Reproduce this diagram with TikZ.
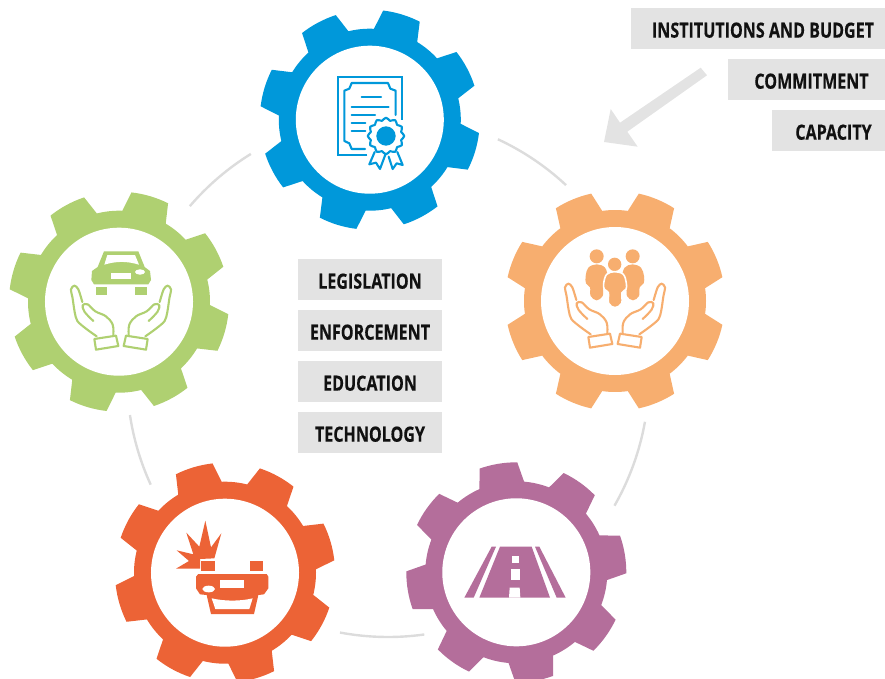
\documentclass[tikz,border=0pt]{standalone}
\usepackage{fontspec}
\usetikzlibrary{calc}
\newfontfamily\lblfont{Open Sans}[FakeStretch=0.766,FakeBold=0.3]
\definecolor{gblue}{HTML}{0098DA}
\definecolor{gorange}{HTML}{F7AE6F}
\definecolor{ggreen}{HTML}{AFD071}
\definecolor{gred}{HTML}{EC6336}
\definecolor{gpurple}{HTML}{B46E9B}
\definecolor{ringgrey}{HTML}{DCDCDC}
\definecolor{boxgrey}{HTML}{E3E3E3}
\definecolor{lbltext}{HTML}{111111}
\tikzset{
  ringarc/.style={draw=ringgrey,line width=2.4pt},
  lblbox/.style={fill=boxgrey,inner sep=0pt,minimum height=41pt,text=lbltext,
     font=\lblfont\bfseries\fontsize{21}{24}\selectfont},
  thin line/.style={line width=2.1pt,line cap=round,line join=round},
  zoomed/.style={scale=1/3}
}
% \gearat{name}{x}{y}{rotation}{colour}
\newcommand{\gearat}[5]{%
  \coordinate (#1) at (#2,#3);
  \begin{scope}[shift={(#2,#3)},rotate=#4]
    \fill[#5] (22.5-14.4:91)
      \foreach \k [evaluate=\k as \a using 22.5+45*\k] in {0,...,7}{
        -- (\a-14.4:91) -- (\a-10:110)
        arc[start angle=\a-10,end angle=\a+10,radius=110]
        -- (\a+14.4:91)
        arc[start angle=\a+14.4,end angle=\a+30.6,radius=91]
      } -- cycle;
    \fill[white] (0,0) circle[radius=74];
  \end{scope}}
% left hand, in the zoom coordinates of the orange gear
\newcommand{\handshape}{%
  \draw[thin line] (265,441) -- (330,431) -- (337,462) -- (270,473) -- cycle;
  \draw[thin line] plot[smooth,tension=.5] coordinates {(272,433) (240,410) (214,387) (206,360) (200,320) (195,292) (205,281) (217,292) (229,330)};
  \draw[thin line] plot[smooth,tension=.6] coordinates {(322,430) (320,398) (300,373) (268,358) (245,337) (230,340) (236,360) (262,387)};
}
\newcommand{\lbl}[1]{\raisebox{-1.6pt}[\height][0pt]{#1}}
\begin{document}
\begin{tikzpicture}[x=1pt,y=1pt,yscale=-1]
\useasboundingbox (0,0) rectangle (885,679);
% ring
\coordinate (ringc) at (388,376);
\foreach \s/\e in {-65.1/-47,10.1/29.8,82/100.6,155.4/171.4,220.6/238.3}
  \draw[ringarc] ($(ringc)+(\s:261)$) arc[start angle=\s,end angle=\e,radius=261];
% gears
\gearat{gearblue}{369.8}{119.7}{-5.5}{gblue}
\gearat{gearorange}{615}{301}{0}{gorange}
\gearat{gearpurple}{516.3}{572.3}{13}{gpurple}
\gearat{gearred}{225}{572.7}{6}{gred}
\gearat{geargreen}{119}{301.7}{-6}{ggreen}
% certificate
\begin{scope}[shift={(250,0)},zoomed,draw=gblue,fill=gblue]
  \draw[thin line,line cap=butt,line join=miter] (352,465) -- (264,465) -- (264,232) -- (457,232) -- (457,360);
  \draw[thin line] (345,447) -- (305,447) -- (298,430) -- (283,423) -- (283,272) -- (298,266) -- (305,249) -- (414,249) -- (421,266) -- (437,272) -- (437,345);
  \draw[thin line] (335,292) -- (393,292) (305,321) -- (416,321) (305,345) -- (375,345) (305,369) -- (346,369) (305,393) -- (346,393);
  \fill (408,408) circle[radius=29];
  \draw[thin line] plot[smooth cycle,samples=48,domain=0:352.5] ({408+(51+4*cos(12*\x))*cos(\x)},{408+(51+4*cos(12*\x))*sin(\x)});
  \draw[thin line] (374,456) -- (358,493) -- (378,488) -- (390,507) -- (406,464);
  \draw[thin line] (442,456) -- (458,495) -- (440,490) -- (428,507) -- (416,470);
\end{scope}
% people and hands
\begin{scope}[shift={(500,190)},zoomed,draw=gorange,fill=gorange]
  \fill (290,199) circle[radius=21];
  \fill (398,199) circle[radius=21];
  \fill (344,223) circle[radius=20];
  \fill plot[smooth cycle,tension=.6] coordinates {(290,223) (265,233) (257,258) (258,280) (270,292) (272,318) (290,331) (308,318) (310,290) (322,262) (315,233)};
  \fill plot[smooth cycle,tension=.6] coordinates {(398,223) (423,233) (432,258) (431,280) (419,292) (417,318) (399,331) (381,318) (379,290) (367,262) (374,233)};
  \fill[draw=white,line width=1.6pt] plot[smooth cycle,tension=.6] coordinates {(344,245) (320,253) (311,280) (313,298) (325,308) (326,340) (345,353) (365,340) (366,308) (378,298) (379,280) (370,253)};
  \handshape
  \begin{scope}[shift={(690,0)},xscale=-1]\handshape\end{scope}
\end{scope}
% car and hands
\begin{scope}[shift={(0,190)},zoomed,draw=ggreen,fill=ggreen]
  \fill (312,184) -- (415,184) -- (434,231) -- (450,243) -- (453,270) -- (445,283) -- (282,283) -- (274,270) -- (276,243) -- (293,231) -- cycle;
  \fill[white] (322,195) -- (405,195) -- (417,224) .. controls (380,213) and (350,213) .. (313,224) -- cycle;
  \fill[white] (332,250) rectangle (393,268);
  \fill[white] (420,246) ellipse[x radius=15,y radius=8];
  \fill (287,290) rectangle (320,314);
  \fill (405,290) rectangle (440,314);
  \begin{scope}[shift={(18,6)}]\handshape\end{scope}
  \begin{scope}[shift={(708,6)},xscale=-1]\handshape\end{scope}
\end{scope}
% crash
\begin{scope}[shift={(110,460)},zoomed,draw=gred,fill=gred]
  \fill (198,326) -- (237,303) -- (200,271) -- (250,283) -- (229,218) -- (268,260) -- (286,182) -- (303,262) -- (334,220) -- (313,295) -- (270,297) -- (270,326) -- cycle;
  \fill (272,303) rectangle (315,333);
  \fill (419,303) rectangle (460,333);
  \fill (265,342) -- (470,342) -- (475,350) -- (475,385) -- (462,403) -- (445,405) -- (432,462) -- (303,462) -- (290,405) -- (270,403) -- (258,385) -- (258,350) -- cycle;
  \fill[white] (305,415) .. controls (345,424) and (390,424) .. (428,415) -- (418,447) -- (316,447) -- cycle;
  \fill[white] (330,360) rectangle (403,383);
  \fill[white] (296,387) ellipse[x radius=19,y radius=10];
\end{scope}
% road
\begin{scope}[shift={(400,460)},zoomed,fill=gpurple]
  \fill (275,260) -- (288,260) -- (221,413) -- (193,413) -- cycle;
  \fill (405,260) -- (418,260) -- (497,413) -- (470,413) -- cycle;
  \fill (300,260) -- (395,260) -- (450,413) -- (238,413) -- cycle;
  \fill[white] (337,288) rectangle (357,310);
  \fill[white] (333,326) rectangle (359,360);
  \fill[white] (329,383) -- (359,383) -- (361,413) -- (327,413) -- cycle;
\end{scope}
% arrow
\fill[boxgrey] (700.7,67.7) -- (707,75.3) -- (627.3,131.7) -- (637.7,146.7) -- (604,142) -- (610.7,109) -- (620,122.7) -- cycle;
% labels
\node[lblbox,minimum width=254pt] (inst) at (758,28.5) {\hspace*{10pt}\lbl{INSTITUTIONS AND BUDGET}};
\node[lblbox,minimum width=157pt] (commit) at (806.5,79.5) {\hspace*{10pt}\lbl{COMMITMENT}};
\node[lblbox,minimum width=113pt] (cap) at (828.5,130.5) {\hspace*{10pt}\lbl{CAPACITY}};
\node[lblbox,minimum width=144pt] (legis) at (370,279.5) {\lbl{LEGISLATION}};
\node[lblbox,minimum width=144pt] (enf) at (370,330.5) {\lbl{ENFORCEMENT}};
\node[lblbox,minimum width=144pt] (edu) at (370,381.5) {\lbl{EDUCATION}};
\node[lblbox,minimum width=144pt] (tech) at (370,432.5) {\lbl{TECHNOLOGY}};
\end{tikzpicture}
\end{document}
